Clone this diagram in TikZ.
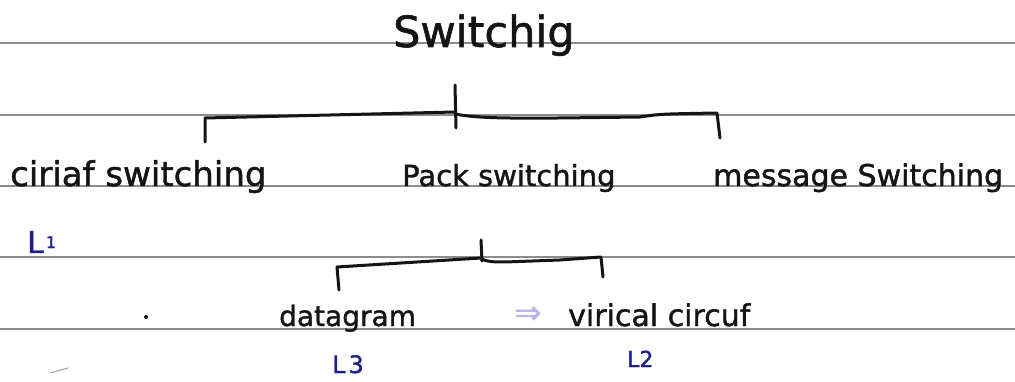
\documentclass[tikz,border=0pt]{standalone}
\usepackage{fontspec}
\setmainfont{DejaVu Sans}
\newfontfamily\hand{DejaVu Sans}[FakeBold=1.3]
\definecolor{ink}{HTML}{141414}
\definecolor{blueink}{HTML}{1E1E8C}
\definecolor{ruling}{HTML}{8C8C8C}
\definecolor{lavender}{HTML}{C2B2EA}
\newcommand{\fs}[1]{\fontsize{#1}{#1}\selectfont}
\begin{document}
\begin{tikzpicture}[x=1pt,y=-1pt,
  rule/.style={ruling, line width=1.4pt},
  hand/.style={ink, line width=3pt, line cap=round, line join=round},
  label/.style={ink, inner sep=0pt, anchor=base west},
  tag/.style={blueink, inner sep=0pt, anchor=base west},
]
\useasboundingbox (0,0) rectangle (1015,382);
\fill[white] (0,0) rectangle (1015,382);
% ruled paper
\foreach \yy in {43,115,186,257,329} \draw[rule] (0,\yy) -- (1015,\yy);

% texts
\node[label, font=\hand\fs{43}] (root) at (393,47) {Switchig};
\node[label, font=\hand\fs{34}] (circ) at (10,186) {ciriaf switching};
\node[label, font=\hand\fs{29}] (pack) at (402,186) {Pack switching};
\node[label, font=\hand\fs{30}] (msg) at (713,186) {message Switching};
\node[label, font=\hand\fs{28}] (dgram) at (279,326) {datagram};
\node[label, font=\hand\fs{30}] (virt) at (568,326) {virical circuf};
\node[tag, font=\hand\fs{30}] (l1) at (27,253) {L\kern2pt\raisebox{5pt}{\fs{16}1}};
\node[tag, font=\hand\fs{24}] (l3) at (332,373) {L\kern3pt3};
\node[tag, font=\hand\fs{22}] (l2) at (627,367) {L2};
\node[lavender, inner sep=0pt, font=\hand\fs{32}] (arr) at (528,315) {⇒};

% top bracket
\coordinate (ttop) at (455,85);
\coordinate (tbot) at (456,128);
\coordinate (tl) at (205,118);
\coordinate (tlb) at (205,142);
\coordinate (tr) at (717,113);
\coordinate (trb) at (720,138);
\draw[hand] (ttop) -- (tbot);
\draw[hand] (tlb) -- (tl) -- (455,112);
\draw[hand] (455,114) .. controls (480,119) and (520,118) .. (560,118)
  -- (640,117) .. controls (660,114) .. (tr) -- (trb);

% bottom bracket
\coordinate (btop) at (481,240);
\coordinate (bbot) at (482,261);
\coordinate (bl) at (337,267);
\coordinate (blb) at (339,290);
\coordinate (br) at (601,257);
\coordinate (brb) at (603,277);
\draw[hand] (btop) -- (bbot);
\draw[hand] (blb) -- (bl) -- (481,258);
\draw[hand] (481,259) .. controls (488,262) and (495,262) .. (505,262)
  -- (560,260) -- (br) -- (brb);

% stray marks
\fill[ink] (146,317) circle (2pt);
\draw[ruling!70, line width=1.2pt, line cap=round] (50,373) -- (68,368);
\end{tikzpicture}
\end{document}
